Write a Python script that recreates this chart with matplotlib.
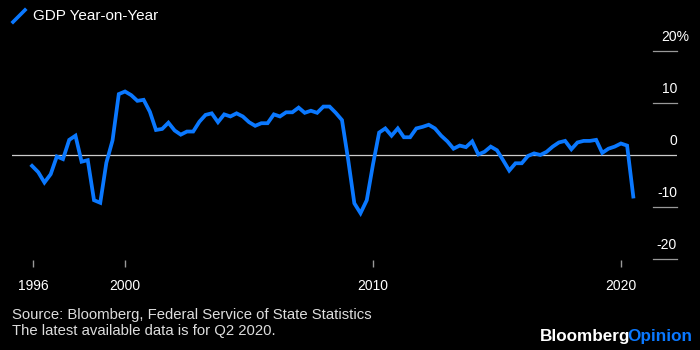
import pandas as pd
import matplotlib
matplotlib.use('Agg')
import matplotlib.pyplot as plt
from matplotlib.lines import Line2D
import matplotlib.transforms as mtransforms

# quarterly GDP growth, year-on-year, %, 1996 Q1 .. 2020 Q2
gdp_yoy = [
    -2.1, -3.3, -5.3, -3.7, -0.3, -0.8, 2.9, 3.7,
    -1.3, -1.0, -8.7, -9.2, -1.5, 2.8, 11.7, 12.2,
    11.5, 10.4, 10.6, 8.3, 4.8, 5.0, 6.2, 4.7,
    3.9, 4.5, 4.5, 6.4, 7.7, 8.0, 6.3, 7.8,
    7.4, 8.0, 7.4, 6.3, 5.6, 6.1, 6.1, 7.8,
    7.4, 8.2, 8.2, 9.1, 8.1, 8.5, 8.1, 9.3,
    9.3, 8.1, 6.7, -1.0, -9.3, -11.2, -8.7, -1.8,
    4.3, 5.1, 3.7, 5.1, 3.4, 3.4, 5.1, 5.4,
    5.8, 5.1, 3.7, 2.6, 1.2, 1.8, 1.5, 2.6,
    0.1, 0.6, 1.6, 0.9, -1.0, -3.0, -1.6, -1.6,
    -0.2, 0.3, 0.0, 0.6, 1.6, 2.4, 2.7, 1.1,
    2.4, 2.7, 2.7, 2.9, 0.4, 1.2, 1.6, 2.2,
    1.8, -8.0,
]
dates = pd.date_range('1996-03-31', periods=len(gdp_yoy), freq='QE')

x_ticks = [pd.Timestamp('1996-04-15'), pd.Timestamp('2000-01-01'),
           pd.Timestamp('2010-01-01'), pd.Timestamp('2020-01-01')]
x_labels = ['1996', '2000', '2010', '2020']
y_ticks = [20, 10, 0, -10, -20]
y_labels = ['20%', '10', '0', '-10', '-20']

BLUE = '#0a78ff'
plt.rcParams['font.family'] = ['Liberation Sans', 'DejaVu Sans']

fig = plt.figure(figsize=(7, 3.5), dpi=100, facecolor='black')
W, H = 700, 350
ax = fig.add_axes([12 / W, 1 - 260 / H, 665 / W, 220 / H], facecolor='black')

ax.plot(dates, gdp_yoy, color=BLUE, lw=2.7, solid_joinstyle='miter', zorder=3)

ax.set_xlim(pd.Timestamp('1995-06-10'), pd.Timestamp('2022-04-05'))
ax.set_ylim(-20.2, 22.1)

for s in ax.spines.values():
    s.set_visible(False)
ax.set_yticks([])
ax.set_xticks(x_ticks)
ax.set_xticklabels(x_labels)
ax.tick_params(axis='x', colors='#999999', length=5, width=1, pad=9,
               labelcolor='white', labelsize=10)

# zero line across, short grid dashes at the right
ax.axhline(0, color='#cccccc', lw=0.9, zorder=1)
ytr = ax.get_yaxis_transform()
renderer = fig.canvas.get_renderer()
pct = fig.text(0, 0, '%', fontsize=10)
pct_w = pct.get_window_extent(renderer).width
pct.remove()
for v, lab in zip(y_ticks, y_labels):
    if v != 0:
        ax.plot([0.964, 1.0], [v, v], transform=ytr, color='#999999', lw=0.9,
                clip_on=False)
    dx = pct_w if lab.endswith('%') else 0
    off = mtransforms.offset_copy(ytr, fig=fig, x=dx, y=7, units='dots')
    ax.text(1.0, v, lab, transform=off, ha='right', va='bottom',
            color='white', fontsize=10)

# legend
fig.add_artist(Line2D([13 / W, 25 / W], [1 - 22 / H, 1 - 10 / H],
                      color=BLUE, lw=2.6, transform=fig.transFigure))
fig.text(33 / W, 1 - 16 / H, 'GDP Year-on-Year', color='white',
         fontsize=11, va='center', ha='left')

# footer
fig.text(12 / W, 1 - 315 / H, 'Source: Bloomberg, Federal Service of State Statistics',
         color='#dddddd', fontsize=10.7, va='center', ha='left')
fig.text(12 / W, 1 - 331 / H, 'The latest available data is for Q2 2020.',
         color='#dddddd', fontsize=10.7, va='center', ha='left')

t2 = fig.text(692 / W, 1 - 337 / H, 'Opinion', color=BLUE, fontsize=12.3,
              fontweight='bold', va='center', ha='right')
fig.canvas.draw()
bb = t2.get_window_extent()
fig.text((bb.x0 + 3) / W, 1 - 337 / H, 'Bloomberg', color='white', fontsize=12.3,
         fontweight='bold', va='center', ha='right')

fig.savefig('out.png', dpi=100, facecolor='black')
